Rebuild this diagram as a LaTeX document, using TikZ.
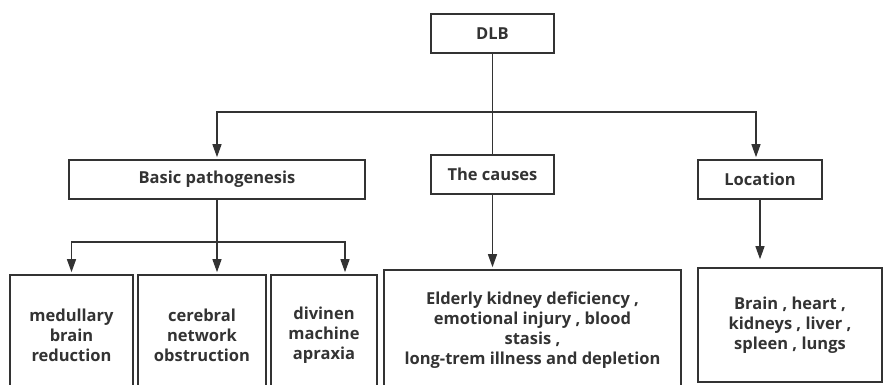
\documentclass[tikz,border=0pt]{standalone}
\usepackage{fontspec}
\setmainfont{Open Sans}
\usetikzlibrary{arrows.meta,positioning,calc}
\definecolor{dgInk}{HTML}{333333}
\tikzset{
  box/.style={draw=dgInk, line width=1.6pt, fill=white, inner sep=2pt, font=\fontsize{16.5}{20}\selectfont\bfseries, text=dgInk, align=center},
  arr/.style={-{Triangle[length=13pt,width=9pt]}, line width=1.3pt, draw=dgInk, shorten >=2pt},
  ln/.style={line width=1.3pt, draw=dgInk},
}

\begin{document}
\begin{tikzpicture}[x=1pt, y=-1pt]
  \useasboundingbox (0,0) rectangle (883,385);
  \clip (0,0) rectangle (883,385);
  % top level
  \node[box, minimum width=123pt, minimum height=39pt] (dlb) at (492.5,33.5) {DLB};
  \node[box, minimum width=296pt, minimum height=39pt] (basic) at (217,179.5) {Basic pathogenesis};
  \node[box, minimum width=123pt, minimum height=39pt] (causes) at (492.5,174.5) {The causes};
  \node[box, minimum width=124pt, minimum height=39pt] (loc) at (760,179.5) {Location};
  % lower boxes
  \node[box, minimum width=123pt, minimum height=120pt] (med) at (71.5,335) {medullary\\brain\\reduction};
  \node[box, minimum width=128pt, minimum height=120pt] (net) at (202,335) {cerebral\\network\\obstruction};
  \node[box, minimum width=106pt, minimum height=120pt] (apr) at (324,335) {divinen\\machine\\apraxia};
  \node[box, minimum width=297pt, minimum height=120pt] (why) at (532.5,330) {Elderly kidney deficiency ,\\emotional injury , blood\\stasis ,\\long-trem illness and depletion};
  \node[box, minimum width=184pt, minimum height=114pt] (where) at (790,325) {Brain , heart ,\\kidneys , liver ,\\spleen , lungs};
  % connectors
  \coordinate (hub) at (492.5,112);
  \coordinate (hub2) at (217,242);
  \draw[ln] (dlb.south) -- (causes.north);
  \draw[arr] (hub) -| (basic.north);
  \draw[arr] (hub) -| ([xshift=-4pt]loc.north);
  \draw[ln] (basic.south) -- (hub2);
  \draw[arr] (hub2) -| (med.north);
  \draw[arr] (hub2) -- (hub2 |- net.north);
  \draw[arr] (hub2) -| ([xshift=21pt]apr.north);
  \draw[arr] (causes.south) -- (causes.south |- why.north);
  \draw[arr, shorten >=8pt] (loc.south) -- (loc.south |- where.north);
\end{tikzpicture}
\end{document}
